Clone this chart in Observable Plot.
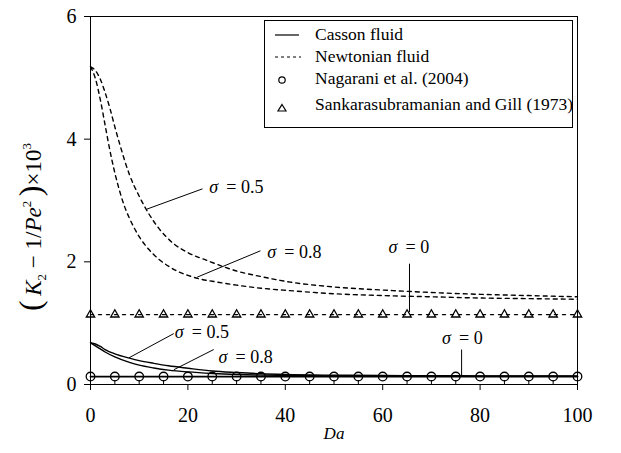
<!DOCTYPE html>
<html><head><meta charset="utf-8">
<script src="https://cdn.jsdelivr.net/npm/d3@7"></script>
<script src="https://cdn.jsdelivr.net/npm/@observablehq/plot@0.6"></script>
<style>
body{margin:0;background:#fff;font-family:Liberation Serif;}
#chart{position:relative;width:621px;height:453px;}
svg text{font-family:"Liberation Serif";}
</style></head><body><div id="chart"></div>
<script>
// ---- data ----
const xMajor = [0, 20, 40, 60, 80, 100];
const xMinor = [5, 10, 15, 25, 30, 35, 45, 50, 55, 65, 70, 75, 85, 90, 95];
const yTicks = [0, 2, 4, 6];

// Newtonian fluid (dashed)
const daN05 = [0, 1, 2, 3, 4, 5, 6, 8, 10, 12, 14, 17, 20, 24, 30, 35, 41, 50, 60, 70, 80, 90, 100];
const kN05  = [5.18, 5.12, 4.98, 4.76, 4.5, 4.2, 3.92, 3.42, 3.07, 2.78, 2.55, 2.3, 2.15, 2.02, 1.85, 1.76, 1.67, 1.59, 1.54, 1.5, 1.47, 1.45, 1.43];
const daN08 = [0, 1, 2, 3, 4, 5, 6, 7, 8, 10, 12, 14, 16, 18, 20, 22, 26, 30, 35, 41, 50, 60, 70, 80, 90, 100];
const kN08  = [5.18, 4.99, 4.65, 4.23, 3.81, 3.45, 3.15, 2.9, 2.71, 2.41, 2.2, 2.045, 1.93, 1.84, 1.78, 1.73, 1.67, 1.62, 1.57, 1.53, 1.48, 1.45, 1.43, 1.41, 1.4, 1.39];
const daN0  = [0, 100];
const kN0   = [1.14, 1.14];

// Casson fluid (solid)
const daC   = [0, 1, 2, 3, 5, 8, 10, 13, 16, 20, 25, 30, 35, 40, 50, 60, 70, 80, 90, 100];
const kC05  = [0.68, 0.66, 0.62, 0.57, 0.5, 0.43, 0.39, 0.345, 0.305, 0.265, 0.22, 0.195, 0.175, 0.163, 0.152, 0.146, 0.143, 0.141, 0.14, 0.139];
const kC08  = [0.68, 0.63, 0.58, 0.53, 0.45, 0.36, 0.315, 0.27, 0.235, 0.205, 0.18, 0.163, 0.153, 0.147, 0.141, 0.138, 0.136, 0.135, 0.134, 0.133];
const daC0  = [0, 100];
const kC0   = [0.13, 0.13];

// literature markers
const daMarkers = [0, 5, 10, 15, 20, 25, 30, 35, 40, 45, 50, 55, 60, 65, 70, 75, 80, 85, 90, 95, 100];
const nagarani  = [0.13, 0.13, 0.13, 0.13, 0.13, 0.13, 0.13, 0.13, 0.13, 0.13, 0.13, 0.13, 0.13, 0.13, 0.13, 0.13, 0.13, 0.13, 0.13, 0.13, 0.13];
const sankara   = [1.14, 1.14, 1.14, 1.14, 1.14, 1.14, 1.14, 1.14, 1.14, 1.14, 1.14, 1.14, 1.14, 1.14, 1.14, 1.14, 1.14, 1.14, 1.14, 1.14, 1.14];

// annotations (σ labels and leader lines)
const annValue = ["0.5", "0.8", "0", "0.5", "0.8", "0"];
const annX     = [24.4, 36.3, 61.2, 17.3, 26.3, 72.2];
const annY     = [3.22, 2.16, 2.23, 0.85, 0.44, 0.75];
const leadX1   = [11.6, 21.9, 65.5, 7.9, 17.1, 76.2];
const leadY1   = [2.86, 1.75, 1.18, 0.435, 0.24, 0.14];
const leadX2   = [23.0, 34.9, 65.5, 17.1, 25.3, 76.2];
const leadY2   = [3.19, 2.18, 1.97, 0.83, 0.57, 0.57];

const legendLabels = ["Casson fluid", "Newtonian fluid", "Nagarani et al. (2004)", "Sankarasubramanian and Gill (1973)"];

// ---- build tables ----
const zip = (xs, ys) => xs.map((x, i) => ({x, y: ys[i]}));
const ann = annValue.map((v, i) => ({v, x: annX[i], y: annY[i]}));
const leaders = leadX1.map((x1, i) => ({x1, y1: leadY1[i], x2: leadX2[i], y2: leadY2[i]}));

const serif = "Liberation Serif";
const solid = {x: "x", y: "y", stroke: "#000", strokeWidth: 1.4, curve: "monotone-x"};
const dashed = {...solid, strokeDasharray: "4,4"};

const plot = Plot.plot({
  width: 621, height: 453,
  marginLeft: 90, marginRight: 44, marginTop: 16, marginBottom: 69,
  style: {fontFamily: serif, background: "#fff", color: "#000"},
  x: {domain: [0, 100]},
  y: {domain: [0, 6]},
  marks: [
    Plot.axisX({ticks: xMajor, tickSize: 6, tickPadding: 17, fontSize: 20, label: null, tickFormat: d => String(d)}),
    Plot.axisY({ticks: yTicks, tickSize: 6, tickPadding: 8, fontSize: 20, label: null, tickFormat: d => String(d)}),
    Plot.ruleX(xMinor, {x: d => d, y1: 0, y2: 0, insetTop: -4, stroke: "#000", strokeWidth: 1}),
    Plot.frame({stroke: "#000", strokeWidth: 1}),
    Plot.line(zip(daN05, kN05), dashed),
    Plot.line(zip(daN08, kN08), dashed),
    Plot.line(zip(daN0, kN0), {...solid, strokeDasharray: "3,5", curve: "linear"}),
    Plot.line(zip(daC, kC05), solid),
    Plot.line(zip(daC, kC08), solid),
    Plot.line(zip(daC0, kC0), {...solid, strokeWidth: 1.8, curve: "linear"}),
    Plot.dot(zip(daMarkers, nagarani), {x: "x", y: "y", r: 4.3, stroke: "#000", strokeWidth: 1.3, fill: "none"}),
    Plot.dot(zip(daMarkers, sankara), {x: "x", y: "y", r: 3.1, symbol: "triangle", stroke: "#000", strokeWidth: 1.3, fill: "none"}),
    Plot.link(leaders, {x1: "x1", y1: "y1", x2: "x2", y2: "y2", stroke: "#000", strokeWidth: 1}),
    Plot.text(ann, {x: "x", y: "y", text: () => "σ", textAnchor: "start", lineAnchor: "middle", fontSize: 18, fontStyle: "italic", fill: "#000"}),
    Plot.text(ann, {x: "x", y: "y", text: d => "= " + d.v, dx: 17, textAnchor: "start", lineAnchor: "middle", fontSize: 18, fill: "#000"}),
    Plot.text(["Da"], {frameAnchor: "bottom", dy: 49, text: d => d, fontSize: 17, fontStyle: "italic", fill: "#000", lineAnchor: "middle"})
  ]
});

// ---- y-axis label with sub/superscripts ----
const ns = "http://www.w3.org/2000/svg";
const lbl = document.createElementNS(ns, "text");
lbl.setAttribute("transform", "translate(41,227) rotate(-90)");
lbl.setAttribute("text-anchor", "middle");
lbl.setAttribute("font-size", "23");
lbl.setAttribute("fill", "#000");
const labelParts = [
  {t: "(", size: 32}, {t: "\u2009"}, {t: "K", italic: true}, {t: "2", sub: true}, {t: " \u2212 1/"},
  {t: "Pe", italic: true}, {t: "2", sup: true}, {t: "\u2009"}, {t: ")", size: 32}, {t: "\u00d710"}, {t: "3", sup: true}
];
let shift = 0;
for (const p of labelParts) {
  const s = document.createElementNS(ns, "tspan");
  s.textContent = p.t;
  let target = 0;
  if (p.sub) { s.setAttribute("font-size", "13"); target = 5; }
  else if (p.sup) { s.setAttribute("font-size", "13"); target = -10; }
  if (p.size) s.setAttribute("font-size", String(p.size));
  if (p.italic) s.setAttribute("font-style", "italic");
  if (target !== shift) { s.setAttribute("dy", String(target - shift)); shift = target; }
  lbl.appendChild(s);
}
plot.appendChild(lbl);

// ---- legend box (inside plot area, top right) ----
const g = document.createElementNS(ns, "g");
g.setAttribute("text-anchor", "start");
const mk = (tag, attrs) => { const e = document.createElementNS(ns, tag); for (const k in attrs) e.setAttribute(k, attrs[k]); g.appendChild(e); return e; };
mk("rect", {x: 264.5, y: 20.5, width: 308, height: 107, fill: "#fff", stroke: "#000", "stroke-width": 1});
const rowY = [34, 56, 78, 104];
legendLabels.forEach((txt, i) => {
  const t = mk("text", {x: 315, y: rowY[i], "font-size": 17.5, fill: "#000", "text-anchor": "start", "dominant-baseline": "central"});
  t.textContent = txt;
});
mk("line", {x1: 275, x2: 299, y1: rowY[0] + 1, y2: rowY[0] + 1, stroke: "#000", "stroke-width": 1.2});
mk("line", {x1: 275, x2: 301, y1: rowY[1] + 1, y2: rowY[1] + 1, stroke: "#000", "stroke-width": 1.2, "stroke-dasharray": "3,3"});
mk("circle", {cx: 282, cy: rowY[2] + 2, r: 3.2, fill: "none", stroke: "#000", "stroke-width": 1.2});
mk("path", {d: `M282,${rowY[3] + 0.5}L286,${rowY[3] + 7}L278,${rowY[3] + 7}Z`, fill: "none", stroke: "#000", "stroke-width": 1.2});
plot.appendChild(g);

document.getElementById("chart").appendChild(plot);
</script>
</body></html>
